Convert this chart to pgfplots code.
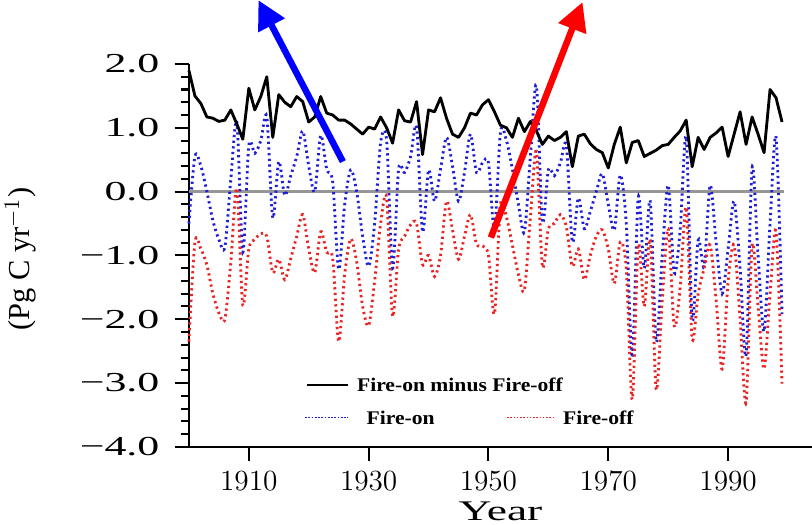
\documentclass[border=0pt]{standalone}
\usepackage{fontspec}
\setmainfont{Liberation Serif}
\newfontfamily\widefont[FakeStretch=1.6]{Liberation Serif}
\newfontfamily\legfont[FakeStretch=1.12]{Liberation Serif}
\usepackage{pgfplots}
\usepackage{pgfplotstable}
\pgfplotsset{compat=1.18}
\usetikzlibrary{arrows.meta}
\definecolor{fireon}{RGB}{30,30,215}
\definecolor{fireoff}{RGB}{235,35,35}
\definecolor{zeroline}{RGB}{150,150,150}

% net = fire-on minus fire-off, on = fire-on, off = fire-off (Pg C/yr)
\pgfplotstableread{
year net on off
1900 1.90 -0.50 -2.35
1901 1.50 0.55 -0.80
1902 1.38 0.40 -0.90
1903 1.17 0.00 -1.15
1904 1.15 -0.45 -1.60
1905 1.10 -0.75 -1.90
1906 1.12 -0.87 -2.00
1907 1.28 0.20 -1.10
1908 1.06 1.09 0.05
1909 0.82 -0.95 -1.78
1910 1.62 0.72 -0.90
1911 1.28 0.60 -0.75
1912 1.49 0.80 -0.66
1913 1.80 1.17 -0.70
1914 0.85 -0.41 -1.27
1915 1.52 0.47 -1.06
1916 1.40 -0.06 -1.38
1917 1.33 0.25 -1.05
1918 1.49 0.55 -0.70
1919 1.41 0.95 -0.36
1920 1.09 0.40 -0.90
1921 1.17 0.00 -1.27
1922 1.49 0.88 -0.63
1923 1.23 0.35 -0.95
1924 1.20 0.15 -1.05
1925 1.12 -1.22 -2.35
1926 1.12 -0.20 -1.30
1927 1.06 0.34 -0.74
1928 0.98 0.00 -1.10
1929 0.90 -0.70 -1.80
1930 1.01 -1.17 -2.10
1931 0.98 -0.50 -1.40
1932 1.17 0.77 -0.50
1933 1.00 0.80 -0.10
1934 0.76 -1.20 -1.95
1935 1.28 0.35 -0.90
1936 1.11 0.30 -0.70
1937 1.09 0.55 -0.52
1938 1.41 1.01 -0.50
1939 0.58 -0.63 -1.14
1940 1.28 0.34 -1.00
1941 1.25 -0.15 -1.33
1942 1.47 0.35 -1.00
1943 1.15 0.85 -0.15
1944 0.90 0.40 -0.60
1945 0.85 -0.15 -1.06
1946 1.00 0.30 -0.70
1947 1.23 0.90 -0.36
1948 1.20 0.30 -0.82
1949 1.36 0.45 -0.85
1950 1.44 0.45 -1.00
1951 1.25 -0.60 -1.92
1952 1.04 0.93 -0.20
1953 1.00 0.80 -0.40
1954 0.85 0.35 -0.84
1955 1.15 -0.20 -1.30
1956 0.94 -0.63 -1.54
1957 1.10 0.55 -0.40
1958 0.95 1.66 0.63
1959 0.74 -0.47 -1.17
1960 0.87 0.34 -0.58
1961 0.80 0.25 -0.50
1962 0.85 0.45 -0.36
1963 0.94 0.72 -0.55
1964 0.39 -0.79 -1.17
1965 0.87 -0.10 -0.90
1966 0.90 -0.58 -1.38
1967 0.75 -0.31 -1.00
1968 0.66 0.00 -0.70
1969 0.61 0.28 -0.60
1970 0.37 -0.20 -0.90
1971 0.74 -0.60 -1.44
1972 1.01 0.26 -0.79
1973 0.45 -0.50 -1.20
1974 0.77 -2.60 -3.26
1975 0.80 -0.09 -0.84
1976 0.55 -1.20 -1.80
1977 0.60 -0.15 -0.76
1978 0.65 -2.35 -3.10
1979 0.72 -1.00 -1.70
1980 0.74 0.10 -0.58
1981 0.85 -1.27 -2.10
1982 0.95 -0.60 -1.50
1983 1.12 0.85 -0.25
1984 0.39 -2.00 -2.30
1985 0.85 -0.76 -1.60
1986 0.66 -1.17 -1.20
1987 0.85 0.10 -0.84
1988 0.92 -0.80 -1.70
1989 1.01 -1.60 -2.78
1990 0.55 -0.90 -1.40
1991 0.90 -0.15 -0.84
1992 1.25 -1.20 -2.00
1993 0.74 -2.56 -3.30
1994 1.17 0.37 -0.84
1995 0.90 -1.00 -1.80
1996 0.61 -2.19 -2.78
1997 1.60 -0.50 -1.60
1998 1.47 0.85 -0.63
1999 1.09 -1.92 -3.01
}\firedata

\begin{document}
\begin{tikzpicture}
\begin{axis}[
  scale only axis,
  width=306.75pt, height=188.5pt,
  xmin=1900, xmax=2004,
  ymin=-4, ymax=2,
  clip=false,
  axis x line*=bottom, axis y line*=left,
  axis line style={line width=1pt},
  every tick/.style={black, line width=1pt},
  tick align=outside,
  major tick length=7pt, minor tick length=4pt,
  xtick={1910,1930,1950,1970,1990},
  minor x tick num=0,
  xticklabel style={/pgf/number format/1000 sep={},
    font=\widefont\fontsize{13.5}{13.5}\selectfont, yshift=-1.5pt},
  ytick={-4,-3,-2,-1,0,1,2},
  yticklabels={−4.0,−3.0,−2.0,−1.0,0.0,1.0,2.0},
  minor y tick num=4,
  yticklabel style={font=\widefont\fontsize{13.5}{13.5}\selectfont, xshift=-4pt},
  xlabel={Year},
  ylabel={(Pg C yr$^{-1}$)},
  xlabel style={font=\widefont\fontsize{14}{14}\selectfont,
    at={(rel axis cs:0.5,0)}, anchor=center, yshift=-31.5pt},
  ylabel style={font=\fontsize{15}{15}\selectfont,
    at={(rel axis cs:-0.27,0.49)}, anchor=center},
]
% zero reference line
\addplot [zeroline, line width=1.1pt, forget plot] coordinates {(1900,0) (1999.4,0)};
% fire-on
\addplot [fireon, line width=1.4pt, dash pattern=on 1.1pt off 1.7pt, smooth, tension=0.5]
  table [x=year, y=on] {\firedata};
% fire-off
\addplot [fireoff, line width=1.4pt, dash pattern=on 1.1pt off 1.7pt, smooth, tension=0.5]
  table [x=year, y=off] {\firedata};
% fire-on minus fire-off
\addplot [black, line width=1.4pt, line join=round] table [x=year, y=net] {\firedata};

% legend, drawn by hand to get the two-row layout
\draw [black, line width=1.1pt] (axis cs:1919.7,-3.03) -- (axis cs:1926.5,-3.03);
\node [anchor=west, inner sep=0pt, font=\legfont\bfseries\fontsize{9.5}{10}\selectfont]
  at (axis cs:1928.0,-3.03) {Fire-on minus Fire-off};
\draw [fireon, line width=0.8pt, dash pattern=on 0.8pt off 0.8pt] (axis cs:1919.4,-3.54) -- (axis cs:1926.5,-3.54);
\node [anchor=west, inner sep=0pt, font=\legfont\bfseries\fontsize{9.5}{10}\selectfont]
  at (axis cs:1929.6,-3.54) {Fire-on};
\draw [fireoff, line width=0.8pt, dash pattern=on 0.8pt off 0.8pt] (axis cs:1953.1,-3.54) -- (axis cs:1960.8,-3.54);
\node [anchor=west, inner sep=0pt, font=\legfont\bfseries\fontsize{9.5}{10}\selectfont]
  at (axis cs:1962.4,-3.54) {Fire-off};

% annotation arrows
\draw [blue, line width=3.2pt, -{Triangle[length=14pt,width=14pt]}]
  (axis cs:1925.7,0.47) -- (axis cs:1911.6,3.0);
\draw [red, line width=3.2pt, -{Triangle[length=14pt,width=14pt]}]
  (axis cs:1950.4,-0.72) -- (axis cs:1965.7,2.97);
\end{axis}
\pgfresetboundingbox
\path ([xshift=-93pt,yshift=-38pt]current axis.south west)
  rectangle ([yshift=31.5pt]current axis.north east);
\end{tikzpicture}
\end{document}
